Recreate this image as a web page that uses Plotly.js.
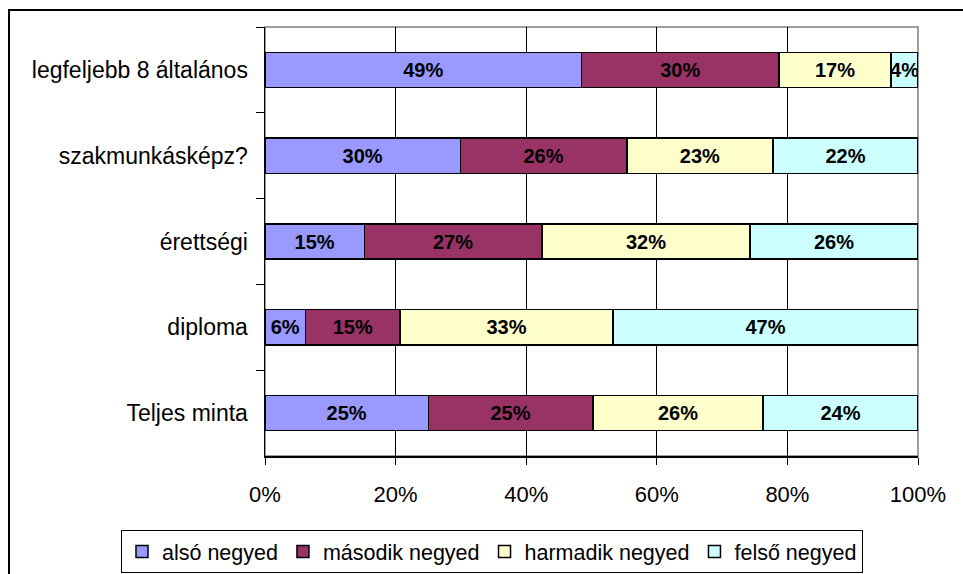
<!DOCTYPE html>
<html>
<head>
<meta charset="utf-8">
<script src="https://cdn.plot.ly/plotly-3.0.1.min.js"></script>
<style>html,body{margin:0;padding:0;background:#fff;}#chart{width:963px;height:574px;}</style>
</head>
<body>
<div id="chart"></div>
<script>
// Categories, top to bottom
const categories = ['legfeljebb 8 általános', 'szakmunkásképz?', 'érettségi', 'diploma', 'Teljes minta'];
const seriesNames = ['alsó negyed', 'második negyed', 'harmadik negyed', 'felső negyed'];
// Segment shares (%)
const also      = [48.5, 29.9, 15.2, 6.2, 25.0];
const masodik   = [30.2, 25.5, 27.2, 14.5, 25.2];
const harmadik  = [17.2, 22.4, 31.9, 32.6, 26.1];
const felso     = [4.1, 22.2, 25.7, 46.7, 23.7];
// Printed data labels
const alsoLbl     = ['49%', '30%', '15%', '6%', '25%'];
const masodikLbl  = ['30%', '26%', '27%', '15%', '25%'];
const harmadikLbl = ['17%', '23%', '32%', '33%', '26%'];
const felsoLbl    = ['4%', '22%', '26%', '47%', '24%'];
const xTicks = [0, 20, 40, 60, 80, 100];
const xTickText = ['0%', '20%', '40%', '60%', '80%', '100%'];

const colors = ['#9999FF', '#993366', '#FFFFCC', '#CCFFFF'];
const values = [also, masodik, harmadik, felso];
const labels = [alsoLbl, masodikLbl, harmadikLbl, felsoLbl];
const FONT = '"Liberation Sans", Arial, sans-serif';

const traces = values.map((v, i) => ({
  type: 'bar',
  orientation: 'h',
  name: seriesNames[i],
  y: categories,
  x: v,
  text: labels[i],
  textposition: 'inside',
  insidetextanchor: 'middle',
  textangle: 0,
  constraintext: 'none',
  textfont: {family: FONT, size: 20, color: '#000', weight: 'bold'},
  marker: {color: colors[i], line: {color: '#000', width: 1.5}},
  hoverinfo: 'none'
}));

const L = 265, R = 918, T = 27, B = 456, W = 963, H = 574;
const pw = R - L, ph = B - T;
const px = x => (x - L) / pw;
const py = y => (B - y) / ph;

const layout = {
  width: W, height: H,
  margin: {l: L, r: W - R, t: T, b: H - B, pad: 0, autoexpand: false},
  paper_bgcolor: '#fff',
  plot_bgcolor: '#fff',
  barmode: 'stack',
  bargap: 0.59,
  showlegend: true,
  font: {family: FONT, size: 22, color: '#000'},
  xaxis: {
    range: [0, 100],
    tickvals: xTicks,
    ticktext: xTickText,
    ticks: 'outside', ticklen: 7, tickwidth: 1, tickcolor: '#000',
    showline: true, linecolor: '#000', linewidth: 1.5,
    showgrid: true, gridcolor: '#000', gridwidth: 1,
    zeroline: false,
    ticklabelstandoff: 11,
    tickfont: {family: FONT, size: 22, color: '#000'},
    fixedrange: true
  },
  yaxis: {
    type: 'category',
    autorange: 'reversed',
    tickson: 'boundaries',
    ticks: 'outside', ticklen: 8, tickwidth: 1, tickcolor: '#000',
    showline: true, linecolor: '#000', linewidth: 1.5,
    showgrid: false, zeroline: false,
    ticklabelstandoff: 11,
    tickfont: {family: FONT, size: 23, color: '#000'},
    fixedrange: true
  },
  legend: {
    orientation: 'h',
    x: px(121), xanchor: 'left',
    y: py(530), yanchor: 'top',
    bgcolor: '#fff',
    bordercolor: '#000', borderwidth: 1,
    font: {family: FONT, size: 21.5, color: '#000'},
    traceorder: 'normal',
    tracegroupgap: 0,
    itemclick: false, itemdoubleclick: false
  },
  shapes: [
    {type: 'rect', xref: 'paper', yref: 'paper', x0: 0, x1: 1, y0: 0, y1: 1,
     line: {color: '#808080', width: 1.5}, layer: 'below'},
    {type: 'rect', xref: 'paper', yref: 'paper', x0: px(9), x1: px(W + 20), y0: py(H + 20), y1: py(10),
     line: {color: '#000', width: 2}, layer: 'below'}
  ]
};

Plotly.newPlot('chart', traces, layout, {staticPlot: true, displayModeBar: false});
</script>
</body>
</html>
